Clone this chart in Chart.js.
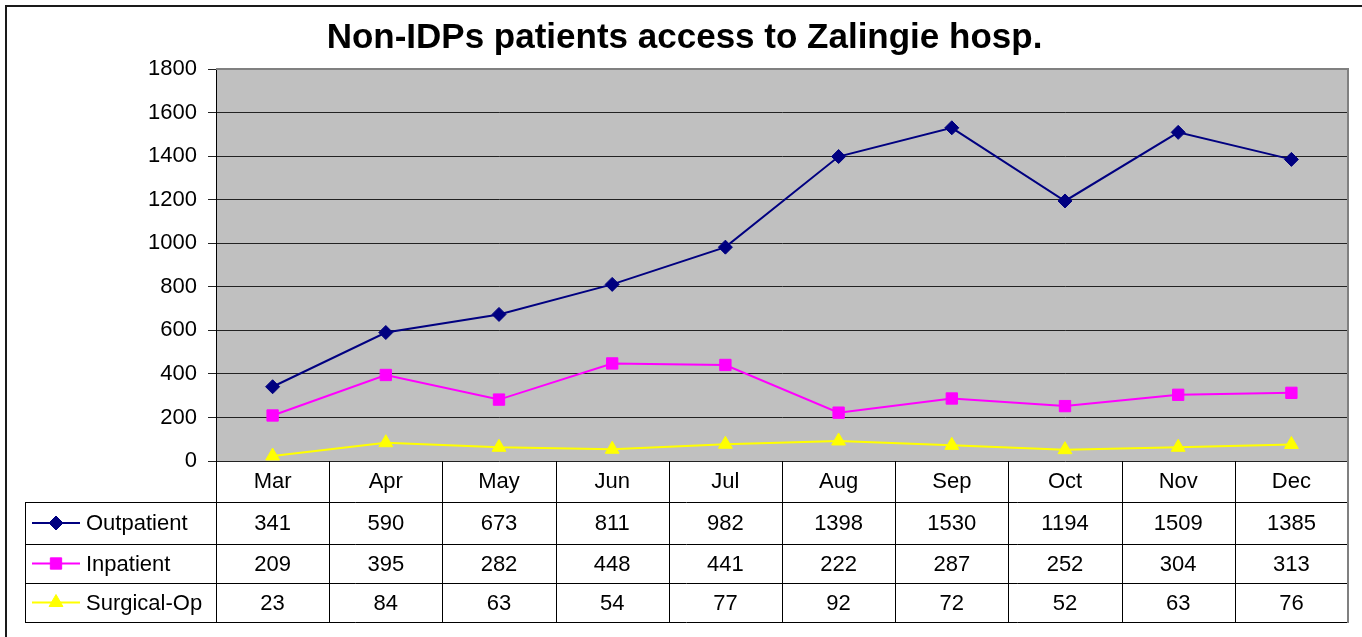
<!DOCTYPE html>
<html><head><meta charset="utf-8">
<script src="https://cdn.jsdelivr.net/npm/chart.js@4.4.1/dist/chart.umd.min.js"></script>
<style>html,body{margin:0;padding:0;background:#fff;overflow:hidden}canvas{display:block}</style>
</head><body>
<canvas id="c" width="1362" height="637"></canvas>
<script>
const chartTitle = 'Non-IDPs patients access to Zalingie hosp.';
const months = ['Mar', 'Apr', 'May', 'Jun', 'Jul', 'Aug', 'Sep', 'Oct', 'Nov', 'Dec'];
const seriesNames = ['Outpatient', 'Inpatient', 'Surgical-Op'];
const outpatient = [341, 590, 673, 811, 982, 1398, 1530, 1194, 1509, 1385];
const inpatient = [209, 395, 282, 448, 441, 222, 287, 252, 304, 313];
const surgicalOp = [23, 84, 63, 54, 77, 92, 72, 52, 63, 76];
const yMin = 0, yMax = 1800, yStep = 200;

const FONT = "'Liberation Sans', Arial, Helvetica, sans-serif";

const styles = [
  {color: '#000080', pointStyle: 'rectRot', radius: 7},
  {color: '#FF00FF', pointStyle: 'rect', radius: 8},
  {color: '#FFFF00', pointStyle: 'triangle', radius: 8}
];
const seriesData = [outpatient, inpatient, surgicalOp];

const framePlugin = {
  id: 'frame',
  beforeDraw(chart) {
    const {ctx, chartArea: a} = chart;
    ctx.save();
    ctx.fillStyle = '#fff';
    ctx.fillRect(0, 0, chart.width, chart.height);
    ctx.strokeStyle = '#1a1a1a';
    ctx.lineWidth = 2;
    ctx.beginPath();
    ctx.moveTo(6, chart.height + 4);
    ctx.lineTo(6, 6);
    ctx.lineTo(chart.width + 4, 6);
    ctx.stroke();
    ctx.fillStyle = '#C0C0C0';
    ctx.fillRect(a.left, a.top, a.right - a.left, a.bottom - a.top);
    ctx.restore();
  },
  beforeDatasetsDraw(chart) {
    const {ctx, chartArea: a} = chart;
    ctx.save();
    ctx.strokeStyle = '#808080';
    ctx.lineWidth = 2;
    ctx.beginPath();
    ctx.moveTo(a.left, a.top);
    ctx.lineTo(a.right, a.top);
    ctx.lineTo(a.right, a.bottom);
    ctx.stroke();
    ctx.restore();
  },
  afterDraw(chart) {
    const {ctx, chartArea: a} = chart;
    const xs = chart.scales.x;
    const rows = [a.bottom, a.bottom + 41, a.bottom + 83, a.bottom + 122, a.bottom + 161];
    const legendLeft = 25;
    ctx.save();
    ctx.strokeStyle = '#000';
    ctx.lineWidth = 1;
    ctx.beginPath();
    for (let r = 1; r < rows.length; r++) {
      const y = Math.round(rows[r]) + 0.5;
      ctx.moveTo(legendLeft, y);
      ctx.lineTo(a.right, y);
    }
    ctx.moveTo(legendLeft + 0.5, rows[1]);
    ctx.lineTo(legendLeft + 0.5, rows[4] + 1);
    for (let i = 0; i < months.length; i++) {
      const x = Math.round(xs.getPixelForValue(i - 0.5)) + 0.5;
      ctx.moveTo(x, rows[0]);
      ctx.lineTo(x, rows[4] + 1);
    }
    ctx.stroke();
    ctx.strokeStyle = '#808080';
    ctx.lineWidth = 2;
    ctx.beginPath();
    ctx.moveTo(a.right, rows[0]);
    ctx.lineTo(a.right, rows[4] + 1);
    ctx.stroke();

    ctx.font = '22px ' + FONT;
    ctx.fillStyle = '#000';
    ctx.textBaseline = 'middle';
    for (let s = 0; s < seriesData.length; s++) {
      const yc = (rows[s + 1] + rows[s + 2]) / 2;
      const st = styles[s];
      ctx.strokeStyle = st.color;
      ctx.lineWidth = 2;
      ctx.beginPath();
      ctx.moveTo(32, yc);
      ctx.lineTo(80, yc);
      ctx.stroke();
      ctx.fillStyle = st.color;
      ctx.lineWidth = 1;
      Chart.helpers.drawPoint(ctx, {pointStyle: st.pointStyle, radius: st.radius, rotation: 0, borderWidth: 1}, 56, yc);
      ctx.fillStyle = '#000';
      ctx.textAlign = 'left';
      ctx.fillText(seriesNames[s], 86, yc + 1);
      ctx.textAlign = 'center';
      seriesData[s].forEach((v, i) => {
        ctx.fillText(String(v), xs.getPixelForValue(i), yc + 1);
      });
    }
    ctx.restore();
  }
};

new Chart(document.getElementById('c'), {
  type: 'line',
  data: {
    labels: months,
    datasets: seriesData.map((d, s) => ({
      label: seriesNames[s],
      data: d,
      borderColor: styles[s].color,
      backgroundColor: styles[s].color,
      pointBackgroundColor: styles[s].color,
      pointBorderColor: styles[s].color,
      pointStyle: styles[s].pointStyle,
      pointRadius: styles[s].radius,
      pointBorderWidth: 1,
      borderWidth: 2,
      tension: 0,
      fill: false
    }))
  },
  options: {
    responsive: false,
    devicePixelRatio: 1,
    animation: false,
    events: [],
    layout: {padding: {left: 21, right: 14, top: 0, bottom: 0}, autoPadding: false},
    plugins: {
      legend: {display: false},
      tooltip: {enabled: false},
      title: {
        display: true,
        text: chartTitle,
        color: '#000',
        font: {family: FONT, size: 35, weight: 'bold'},
        padding: {top: 17, bottom: 10}
      }
    },
    scales: {
      x: {
        offset: true,
        grid: {display: false, drawTicks: false},
        border: {display: false},
        ticks: {color: '#000', font: {family: FONT, size: 22}, padding: 8, maxRotation: 0, autoSkip: false},
        afterFit(s) { s.height = 176; }
      },
      y: {
        min: yMin, max: yMax,
        grid: {color: '#222', lineWidth: 1, tickLength: 8, drawTicks: true},
        border: {display: true, color: '#000', width: 1},
        ticks: {stepSize: yStep, color: '#000', font: {family: FONT, size: 22}, padding: 11,
                callback: (v) => String(v)},
        afterFit(s) { s.width = 195; }
      }
    }
  },
  plugins: [framePlugin]
});
</script>
</body></html>
